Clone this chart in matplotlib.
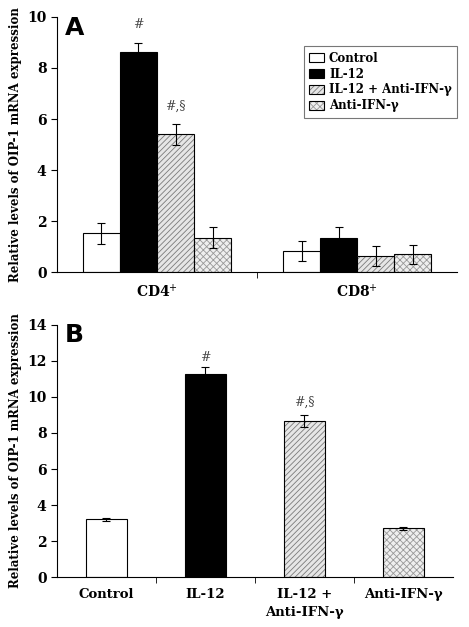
import numpy as np
import matplotlib
matplotlib.use("Agg")
import matplotlib.pyplot as plt
from matplotlib.patches import Rectangle

# panel A data (CD4+ / CD8+ cells)
cells = ["CD4$^{+}$", "CD8$^{+}$"]
treatments = ["Control", "IL-12", "IL-12 + Anti-IFN-\u03b3", "Anti-IFN-\u03b3"]
a_means = {
    "Control": [1.52, 0.83],
    "IL-12": [8.62, 1.35],
    "IL-12 + Anti-IFN-\u03b3": [5.4, 0.63],
    "Anti-IFN-\u03b3": [1.35, 0.7],
}
a_err = {
    "Control": [0.42, 0.4],
    "IL-12": [0.35, 0.42],
    "IL-12 + Anti-IFN-\u03b3": [0.4, 0.38],
    "Anti-IFN-\u03b3": [0.42, 0.38],
}

# panel B data
b_labels = ["Control", "IL-12", "IL-12 +\nAnti-IFN-\u03b3", "Anti-IFN-\u03b3"]
b_means = [3.2, 11.25, 8.65, 2.7]
b_err = [0.1, 0.42, 0.33, 0.07]

styles = {
    "Control": dict(color="white", hatch=None, hcol=None),
    "IL-12": dict(color="black", hatch=None, hcol=None),
    "IL-12 + Anti-IFN-\u03b3": dict(color="#e6e6e6", hatch="//////", hcol="#7a7a7a"),
    "Anti-IFN-\u03b3": dict(color="#efefef", hatch="xxxxx", hcol="#999999"),
}

serif = "DejaVu Serif"
plt.rcParams["font.family"] = serif
plt.rcParams["hatch.linewidth"] = 0.6


def draw_bar(ax, x, h, w, name):
    st = styles[name]
    if st["hatch"]:
        ax.bar(x, h, w, color=st["color"], hatch=st["hatch"], edgecolor=st["hcol"], linewidth=0)
        ax.bar(x, h, w, color="none", edgecolor="black", linewidth=0.8)
    else:
        ax.bar(x, h, w, color=st["color"], edgecolor="black", linewidth=0.8)


def legend_handle(name):
    st = styles[name]
    if st["hatch"]:
        return (Rectangle((0, 0), 1, 1, facecolor=st["color"], hatch=st["hatch"],
                          edgecolor=st["hcol"], linewidth=0),
                Rectangle((0, 0), 1, 1, facecolor="none", edgecolor="black", linewidth=0.8))
    return Rectangle((0, 0), 1, 1, facecolor=st["color"], edgecolor="black", linewidth=0.8)


def style_axes(ax):
    ax.spines["top"].set_visible(False)
    ax.spines["right"].set_visible(False)
    ax.tick_params(axis="y", direction="out", length=4, labelsize=10)
    for t in ax.get_yticklabels():
        t.set_fontweight("bold")
    ax.set_ylabel("Relative levels of OIP-1 mRNA expression", fontsize=8.5, fontweight="bold")


fig = plt.figure(figsize=(4.69, 6.27), dpi=100)

# ---- panel A
axA = fig.add_axes([0.1215, 0.566, 0.853, 0.407])
bw = 0.185
x = np.arange(len(cells))
offsets = [-1.5, -0.5, 0.5, 1.5]
for name, off in zip(treatments, offsets):
    draw_bar(axA, x + off * bw, a_means[name], bw, name)
    axA.errorbar(x + off * bw, a_means[name], yerr=a_err[name], fmt="none",
                 ecolor="black", elinewidth=0.8, capsize=3, capthick=0.8)
axA.set_xlim(-0.5, 1.5)
axA.set_ylim(0, 10)
axA.set_yticks([0, 2, 4, 6, 8, 10])
axA.set_xticks(x)
axA.set_xticklabels(cells, fontsize=10, fontweight="bold")
axA.tick_params(axis="x", length=0, pad=8)
axA.set_xticks([0.5], minor=True)
axA.tick_params(axis="x", which="minor", length=4)
style_axes(axA)
axA.text(-0.5 * bw, 9.7, "#", ha="center", va="center", fontsize=9, color="#444444")
axA.text(0.5 * bw, 6.5, "#,\u00a7", ha="center", va="center", fontsize=9, color="#444444")
axA.text(0.02, 0.955, "A", transform=axA.transAxes, fontsize=18, fontweight="bold",
         family="DejaVu Sans", ha="left", va="center")
leg = axA.legend([legend_handle(n) for n in treatments], treatments,
                 loc="upper right", bbox_to_anchor=(1.0, 0.885), borderaxespad=0,
                 frameon=True, fancybox=False, handlelength=1.3, handleheight=0.8,
                 handletextpad=0.4, borderpad=0.45, labelspacing=0.25, edgecolor="#555555",
                 prop=dict(weight="bold", size=8.5))
leg.get_frame().set_linewidth(0.8)

# ---- panel B
axB = fig.add_axes([0.1215, 0.0797, 0.844, 0.402])
xb = np.arange(len(b_labels))
bwb = 0.41
for i, name in enumerate(treatments):
    draw_bar(axB, xb[i], b_means[i], bwb, name)
axB.errorbar(xb, b_means, yerr=b_err, fmt="none", ecolor="black", elinewidth=0.8,
             capsize=3, capthick=0.8)
axB.set_xlim(-0.5, 3.5)
axB.set_ylim(0, 14)
axB.set_yticks([0, 2, 4, 6, 8, 10, 12, 14])
axB.set_xticks(xb)
axB.set_xticklabels(b_labels, fontsize=9.5, fontweight="bold", linespacing=1.5)
axB.tick_params(axis="x", length=0, pad=8)
axB.set_xticks([0.5, 1.5, 2.5], minor=True)
axB.tick_params(axis="x", which="minor", length=4)
style_axes(axB)
axB.text(1, 12.2, "#", ha="center", va="center", fontsize=9, color="#444444")
axB.text(2, 9.7, "#,\u00a7", ha="center", va="center", fontsize=9, color="#444444")
axB.text(0.02, 0.96, "B", transform=axB.transAxes, fontsize=18, fontweight="bold",
         family="DejaVu Sans", ha="left", va="center")

fig.savefig("out.png", dpi=100)
